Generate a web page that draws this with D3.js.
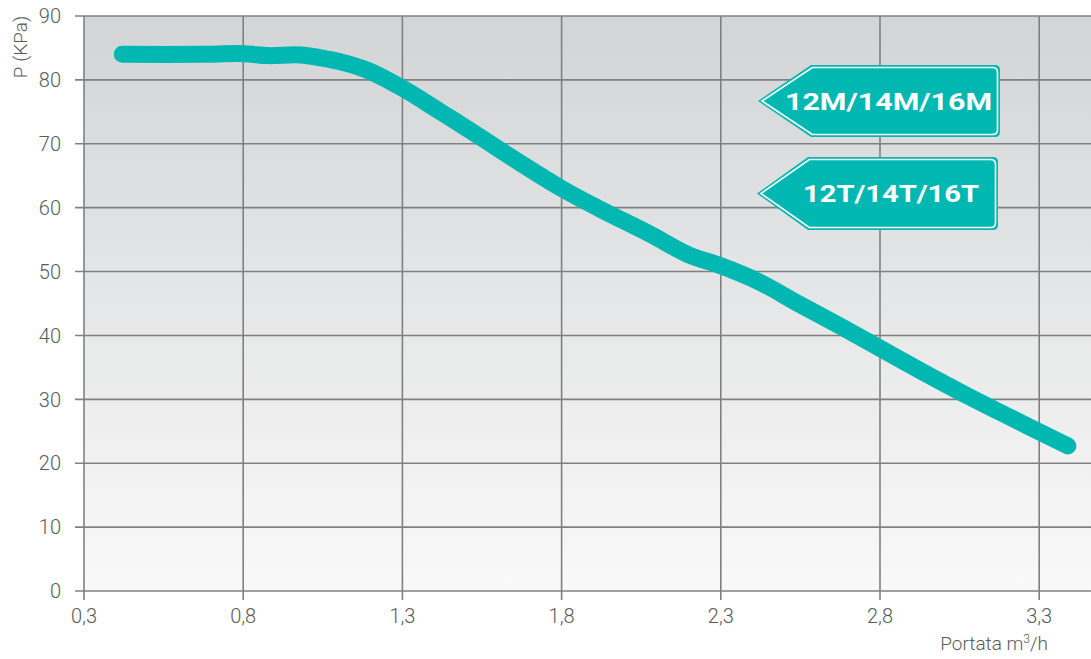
<!DOCTYPE html>
<html>
<head>
<meta charset="utf-8">
<script src="https://cdn.jsdelivr.net/npm/d3@7"></script>
<style>
  body { margin: 0; background: #fff; }
  text { font-family: Roboto, "Liberation Sans", sans-serif; }
</style>
</head>
<body>
<div id="chart"></div>
<script>
// curve (portata m3/h -> P KPa)
var portata = [0.42, 0.66, 0.80, 0.88, 0.98, 1.07, 1.13, 1.20, 1.30, 1.42, 1.54, 1.67, 1.80, 1.92, 2.08, 2.20, 2.30, 2.42, 2.55, 2.67, 2.80, 2.93, 3.05, 3.18, 3.39];
var pressione = [84.0, 84.0, 84.1, 83.8, 83.9, 83.2, 82.5, 81.3, 78.7, 75.0, 71.2, 67.0, 63.0, 59.8, 55.8, 52.6, 50.9, 48.4, 44.8, 41.6, 38.0, 34.4, 31.2, 27.9, 22.7];
var xTicks = [0.3, 0.8, 1.3, 1.8, 2.3, 2.8, 3.3];
var yTicks = [0, 10, 20, 30, 40, 50, 60, 70, 80, 90];
var etichette = ["12M/14M/16M", "12T/14T/16T"];

var W = 1091, H = 659;
// attenzione: "top" e' gia' window.top
var mLeft = 84, mTop = 16, mBottom = 591, mRight = W;

var svg = d3.select('#chart').append('svg')
  .attr('width', W).attr('height', H);

var x = d3.scaleLinear().domain([0.3, 0.3 + (mRight - mLeft) / 318.4]).range([mLeft, mRight]);
var y = d3.scaleLinear().domain([0, 90]).range([mBottom, mTop]);

// sfondo sfumato
var defs = svg.append('defs');
var grad = defs.append('linearGradient').attr('id', 'bg')
  .attr('x1', 0).attr('y1', 0).attr('x2', 0).attr('y2', 1);
grad.append('stop').attr('offset', '0%').attr('stop-color', '#d3d4d6');
grad.append('stop').attr('offset', '100%').attr('stop-color', '#f9f9f9');

svg.append('rect')
  .attr('x', mLeft).attr('y', mTop)
  .attr('width', mRight - mLeft).attr('height', mBottom - mTop)
  .attr('fill', 'url(#bg)');

// griglia
svg.selectAll('.hgrid').data(yTicks).enter().append('line')
  .attr('x1', mLeft - 9).attr('x2', mRight)
  .attr('y1', function(d){ return y(d); }).attr('y2', function(d){ return y(d); })
  .attr('stroke', '#808080').attr('stroke-width', 1.6);

svg.selectAll('.vgrid').data(xTicks).enter().append('line')
  .attr('x1', function(d){ return x(d); }).attr('x2', function(d){ return x(d); })
  .attr('y1', mTop).attr('y2', mBottom + 9)
  .attr('stroke', '#808080').attr('stroke-width', 1.6);

// etichette assi
svg.selectAll('.ylab').data(yTicks).enter().append('text')
  .attr('x', 61).attr('y', function(d){ return y(d); })
  .attr('dy', '0.36em')
  .attr('text-anchor', 'end')
  .attr('font-size', 20).attr('font-weight', 300).attr('fill', '#5a5a5a')
  .text(function(d){ return d; });

svg.selectAll('.xlab').data(xTicks).enter().append('text')
  .attr('x', function(d){ return x(d); }).attr('y', 623)
  .attr('text-anchor', 'middle')
  .attr('font-size', 20).attr('font-weight', 300).attr('fill', '#5a5a5a')
  .text(function(d){ return d3.format('.1f')(d).replace('.', ','); });

var xt = svg.append('text')
  .attr('x', 1048).attr('y', 650)
  .attr('text-anchor', 'end')
  .attr('font-size', 19).attr('font-weight', 300).attr('fill', '#5a5a5a');
xt.append('tspan').text('Portata m');
xt.append('tspan').attr('font-size', 12).attr('dy', -7).text('3');
xt.append('tspan').attr('dy', 7).text('/h');

svg.append('text')
  .attr('transform', 'translate(27,47) rotate(-90)')
  .attr('text-anchor', 'middle')
  .attr('font-size', 19).attr('font-weight', 300).attr('fill', '#5a5a5a')
  .text('P (KPa)');

// curva
var pts = portata.map(function(d, i){ return [d, pressione[i]]; });
var line = d3.line()
  .x(function(d){ return x(d[0]); })
  .y(function(d){ return y(d[1]); })
  .curve(d3.curveCatmullRom);

svg.append('path')
  .datum(pts)
  .attr('d', line)
  .attr('fill', 'none')
  .attr('stroke', '#00b8b1')
  .attr('stroke-width', 17)
  .attr('stroke-linecap', 'round')
  .attr('stroke-linejoin', 'round');

// frecce etichette
var boxes = [
  { tip: 758, body: 811, r: 1000, t: 65, b: 137, tx: 785, tw: 207, ty: 110 },
  { tip: 757, body: 808, r: 998, t: 157, b: 230, tx: 803, tw: 176, ty: 202 }
];

function arrow(b, inset) {
  var m = (b.t + b.b) / 2, c = 5;
  return 'M' + (b.tip + inset * 1.6) + ',' + m +
    'L' + (b.body + inset * 0.5) + ',' + (b.t + inset) +
    'L' + (b.r - c - inset) + ',' + (b.t + inset) +
    'Q' + (b.r - inset) + ',' + (b.t + inset) + ' ' + (b.r - inset) + ',' + (b.t + c + inset) +
    'L' + (b.r - inset) + ',' + (b.b - c - inset) +
    'Q' + (b.r - inset) + ',' + (b.b - inset) + ' ' + (b.r - c - inset) + ',' + (b.b - inset) +
    'L' + (b.body + inset * 0.5) + ',' + (b.b - inset) + 'Z';
}

boxes.forEach(function(b, i){
  svg.append('path').attr('d', arrow(b, 0)).attr('fill', '#00b8b1');
  svg.append('path').attr('d', arrow(b, 2.5))
    .attr('fill', 'none').attr('stroke', '#ffffff').attr('stroke-width', 1.6);
  svg.append('text')
    .attr('x', b.tx).attr('y', b.ty)
    .attr('textLength', b.tw).attr('lengthAdjust', 'spacingAndGlyphs')
    .attr('font-family', '"Liberation Sans", Arial, sans-serif')
    .attr('font-size', 24).attr('font-weight', 'bold').attr('fill', '#ffffff')
    .text(etichette[i]);
});
</script>
</body>
</html>
